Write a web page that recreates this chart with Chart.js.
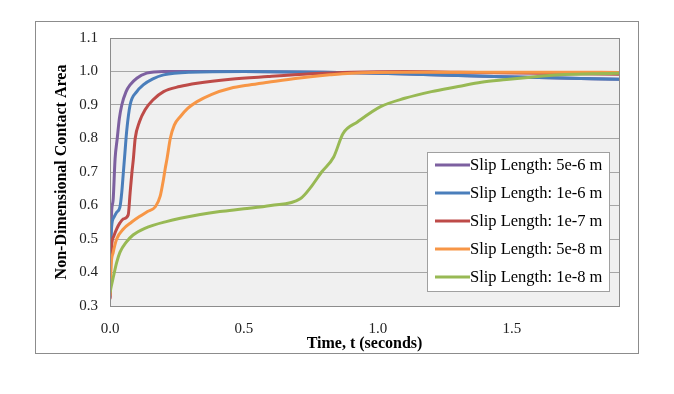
<!DOCTYPE html>
<html>
<head>
<meta charset="utf-8">
<script src="https://cdn.jsdelivr.net/npm/chart.js@4"></script>
<style>
  html, body { margin: 0; padding: 0; background: #ffffff; }
  #wrap { width: 674px; height: 394px; position: relative; }
</style>
</head>
<body>
<div id="wrap"><canvas id="contactChart" width="674" height="394"></canvas></div>
<script>
// Temas alanı verileri (okunan değerler)
const seriesNames = ['Slip Length: 5e-6 m', 'Slip Length: 1e-6 m', 'Slip Length: 1e-7 m', 'Slip Length: 5e-8 m', 'Slip Length: 1e-8 m'];
const seriesColors = ['#7d60a0', '#4a7ebb', '#be4b48', '#f79646', '#98b954'];

const tPurple = [0, 0.003, 0.006, 0.012, 0.019, 0.027, 0.035, 0.044, 0.06, 0.075, 0.1, 0.137, 0.2, 0.3, 0.5, 0.8, 1.0, 1.2, 1.4, 1.6, 1.9];
const vPurple = [0.325, 0.5, 0.58, 0.62, 0.74, 0.8, 0.86, 0.9, 0.94, 0.96, 0.98, 0.995, 1.0, 1.0, 1.0, 0.998, 0.995, 0.99, 0.986, 0.982, 0.977];

const tBlue = [0, 0.003, 0.006, 0.015, 0.025, 0.037, 0.044, 0.05, 0.056, 0.062, 0.075, 0.1, 0.124, 0.16, 0.2, 0.3, 0.5, 0.8, 1.0, 1.2, 1.4, 1.6, 1.9];
const vBlue = [0.33, 0.47, 0.536, 0.565, 0.58, 0.595, 0.64, 0.7, 0.76, 0.82, 0.9, 0.94, 0.96, 0.978, 0.99, 0.998, 1.0, 0.998, 0.995, 0.99, 0.986, 0.982, 0.977];

const tRed = [0, 0.003, 0.006, 0.015, 0.025, 0.037, 0.05, 0.068, 0.075, 0.082, 0.087, 0.094, 0.11, 0.131, 0.16, 0.2, 0.26, 0.325, 0.45, 0.59, 0.75, 0.9, 1.1, 1.3, 1.6, 1.9];
const vRed = [0.32, 0.43, 0.48, 0.51, 0.53, 0.548, 0.56, 0.572, 0.637, 0.7, 0.737, 0.8, 0.85, 0.886, 0.915, 0.94, 0.955, 0.965, 0.977, 0.985, 0.993, 0.998, 1.0, 0.998, 0.995, 0.992];

const tOrange = [0, 0.004, 0.012, 0.025, 0.05, 0.08, 0.11, 0.14, 0.17, 0.187, 0.2, 0.206, 0.213, 0.225, 0.24, 0.262, 0.29, 0.325, 0.38, 0.45, 0.52, 0.59, 0.7, 0.82, 0.9, 1.1, 1.4, 1.7, 1.9];
const vOrange = [0.33, 0.42, 0.46, 0.5, 0.53, 0.55, 0.567, 0.582, 0.597, 0.627, 0.68, 0.71, 0.74, 0.8, 0.84, 0.865, 0.89, 0.91, 0.932, 0.95, 0.96, 0.968, 0.98, 0.99, 0.995, 0.998, 0.998, 0.998, 0.997];

const tGreen = [0, 0.005, 0.012, 0.025, 0.037, 0.06, 0.086, 0.13, 0.21, 0.337, 0.41, 0.5, 0.6, 0.71, 0.75, 0.79, 0.835, 0.87, 0.925, 1.01, 1.1, 1.2, 1.3, 1.386, 1.48, 1.57, 1.68, 1.8, 1.9];
const vGreen = [0.34, 0.36, 0.385, 0.43, 0.46, 0.49, 0.512, 0.532, 0.552, 0.573, 0.582, 0.59, 0.6, 0.62, 0.655, 0.7, 0.745, 0.815, 0.85, 0.895, 0.92, 0.94, 0.955, 0.968, 0.976, 0.983, 0.99, 0.993, 0.995];

const xTickValues = [0, 0.5, 1.0, 1.5];

const allTimes = [tPurple, tBlue, tRed, tOrange, tGreen];
const allValues = [vPurple, vBlue, vRed, vOrange, vGreen];

function toPoints(ts, vs) {
    return ts.map((t, i) => ({ x: t, y: vs[i] }));
}

const serif = "'Liberation Serif', 'Times New Roman', serif";

// Arka plan, çerçeve ve açıklama kutusu
const framePlugin = {
    id: 'frame',
    beforeDraw(chart) {
        const { ctx, chartArea: a } = chart;
        ctx.save();
        ctx.fillStyle = '#ffffff';
        ctx.fillRect(0, 0, chart.width, chart.height);
        ctx.strokeStyle = '#8c8c8c';
        ctx.lineWidth = 1;
        ctx.strokeRect(35.5, 21.5, 603, 332);
        ctx.fillStyle = '#f0f0f0';
        ctx.fillRect(a.left, a.top, a.right - a.left, a.bottom - a.top);
        ctx.restore();
    },
    afterDatasetsDraw(chart) {
        const { ctx, chartArea: a } = chart;
        ctx.save();
        ctx.strokeStyle = '#8c8c8c';
        ctx.lineWidth = 1;
        ctx.strokeRect(Math.round(a.left) + 0.5, Math.round(a.top) + 0.5, Math.round(a.right - a.left), Math.round(a.bottom - a.top));
        // legend
        ctx.fillStyle = '#ffffff';
        ctx.fillRect(427, 152, 182, 139);
        ctx.strokeStyle = '#a0a0a0';
        ctx.strokeRect(427.5, 152.5, 182, 139);
        ctx.font = '16.5px ' + serif;
        ctx.textBaseline = 'middle';
        ctx.textAlign = 'left';
        chart.data.datasets.forEach((ds, i) => {
            const y = 165 + i * 28;
            ctx.strokeStyle = ds.borderColor;
            ctx.lineWidth = 3;
            ctx.beginPath();
            ctx.moveTo(435, y);
            ctx.lineTo(470, y);
            ctx.stroke();
            ctx.fillStyle = '#000000';
            ctx.fillText(ds.label, 470, y + 1);
        });
        ctx.restore();
    }
};

new Chart(document.getElementById('contactChart'), {
    type: 'line',
    data: {
        datasets: seriesNames.map((name, i) => ({
            label: name,
            data: toPoints(allTimes[i], allValues[i]),
            borderColor: seriesColors[i],
            borderWidth: 3,
            pointRadius: 0,
            fill: false,
            cubicInterpolationMode: 'monotone',
            order: seriesNames.length - i
        }))
    },
    options: {
        responsive: false,
        animation: false,
        layout: { padding: { left: 40, top: 38, right: 55, bottom: 40 } },
        plugins: { legend: { display: false }, tooltip: { enabled: false } },
        scales: {
            x: {
                type: 'linear',
                min: 0,
                max: 1.9,
                afterBuildTicks(scale) {
                    scale.ticks = xTickValues.map(v => ({ value: v }));
                },
                afterFit(scale) { scale.height = 48; },
                grid: { display: false, drawTicks: false },
                border: { display: false },
                ticks: {
                    padding: 14,
                    color: '#222',
                    font: { family: serif, size: 15 },
                    callback: v => Number(v).toFixed(1)
                },
                title: {
                    display: true,
                    text: 'Time, t (seconds)',
                    color: '#000',
                    font: { family: serif, size: 16, weight: 'bold' },
                    padding: { top: 0, bottom: 1 }
                }
            },
            y: {
                min: 0.3,
                max: 1.1,
                afterFit(scale) { scale.width = 70; },
                grid: { color: '#a6a6a6', drawTicks: false },
                border: { display: false },
                ticks: {
                    stepSize: 0.1,
                    padding: 12,
                    color: '#222',
                    font: { family: serif, size: 15 },
                    callback: v => Number(v).toFixed(1)
                },
                title: {
                    display: true,
                    text: 'Non-Dimensional Contact Area',
                    color: '#000',
                    font: { family: serif, size: 16, weight: 'bold' },
                    padding: { top: 12, bottom: 0 }
                }
            }
        }
    },
    plugins: [framePlugin]
});
</script>
</body>
</html>
